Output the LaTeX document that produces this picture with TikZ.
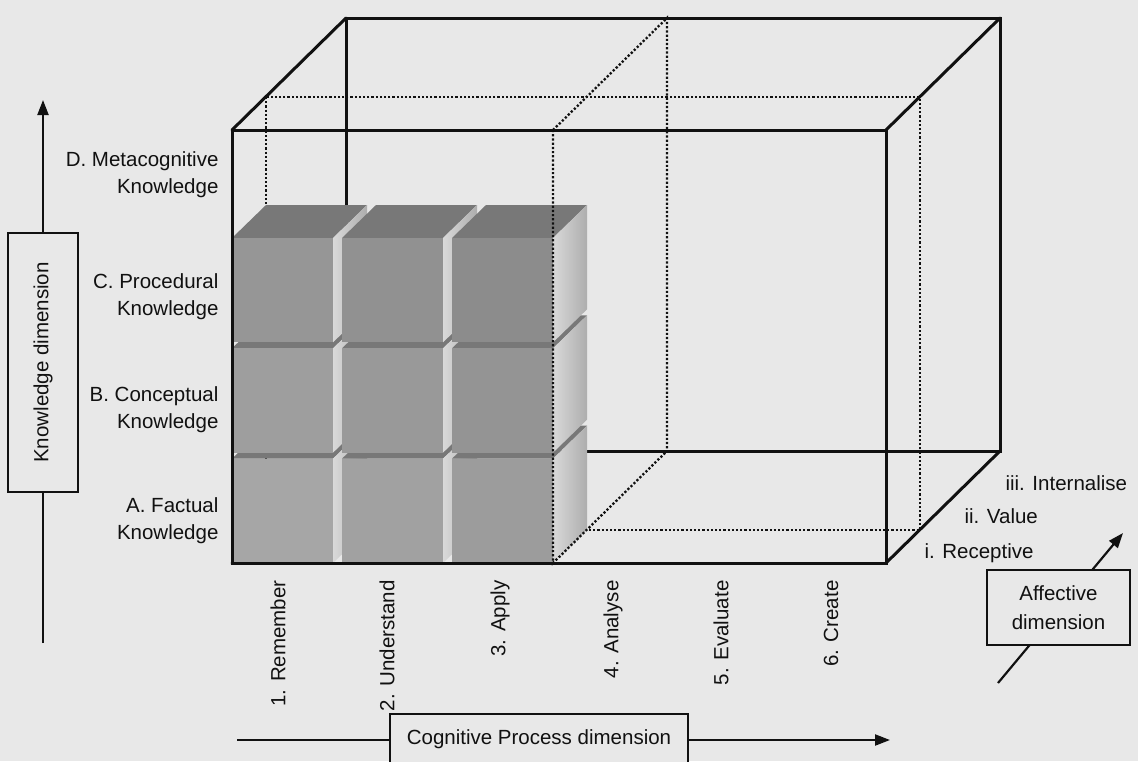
\documentclass[tikz,border=0pt]{standalone}
\usepackage{fontspec}
\setmainfont{Liberation Sans}
\usetikzlibrary{positioning,calc,arrows.meta}
\definecolor{paper}{HTML}{E8E8E8}
\definecolor{ink}{HTML}{111111}
\definecolor{cubetop}{HTML}{787878}

\begin{document}
\begin{tikzpicture}[x=1pt,y=-1pt,
  font=\fontsize{20.5}{27}\selectfont,
  edge/.style={line width=3pt,ink,line cap=round},
  hidden/.style={line width=2.3pt,ink,dash pattern=on 2.2pt off 2pt},
  axis/.style={line width=2.2pt,ink},
  axisarrow/.style={axis,-{Triangle[length=15pt,width=11pt]}},
  dimbox/.style={draw=ink,line width=2.2pt,fill=paper,inner sep=0pt,align=center,text=ink},
  rowlabel/.style={anchor=east,align=right,text=ink},
  collabel/.style={rotate=90,anchor=east,text=ink},
  afflabel/.style={anchor=base west,text=ink}]
\useasboundingbox (0,0) rectangle (1138,761);
\fill[paper] (0,0) rectangle (1138,761);
% corners of the box: front (f), back (b), receptive layer (m), split after 3. Apply (s)
\coordinate (fTL) at (232,130); \coordinate (fTR) at (886,130);
\coordinate (fBR) at (886,563); \coordinate (fBL) at (232,563);
\coordinate (bTL) at (346,18);  \coordinate (bTR) at (1000,18);
\coordinate (bBR) at (1000,451); \coordinate (bBL) at (346,451);
\coordinate (mTL) at (266,97);  \coordinate (mBR) at (920,530);
\coordinate (sTF) at (553,130); \coordinate (sBF) at (553,563);
\coordinate (sTB) at (667,18);  \coordinate (sBB) at (667,451);
% back of the box, partly hidden by the cubes
\draw[edge] (bTL) -- (bTR) -- (bBR) -- (bBL) -- cycle;
\draw[edge] (fTL) -- (bTL) (fTR) -- (bTR) (fBR) -- (bBR) (fBL) -- (bBL);
\draw[hidden] (mTL) rectangle (mBR);
\draw[hidden] (sTF) -- (sTB) -- (sBB);
% the nine cubes, bottom row first
\foreach \j in {0,1,2}{
  \foreach \i in {0,1,2}{
    \pgfmathsetmacro{\xa}{232+110*\i}
    \pgfmathsetmacro{\xb}{\xa+101}
    \pgfmathsetmacro{\yb}{563-110.33*\j}
    \pgfmathsetmacro{\ya}{\yb-104.33}
    \pgfmathtruncatemacro{\tone}{35+3*\j+2*\i}
    \fill[cubetop] (\xa,\ya) -- (\xb,\ya) -- ++(34,-33) -- (\xa+34,\ya-33) -- cycle;
    \shade[left color=black!15,right color=black!32] (\xb,\ya) -- (\xb,\yb) -- ++(34,-33) -- (\xb+34,\ya-33) -- cycle;
    \fill[black!\tone] (\xa,\ya) rectangle (\xb,\yb);
  }
}
% front of the box
\draw[edge] (fTL) rectangle (fBR);
\draw[hidden] (sTF) -- (sBF) -- (sBB);
% NODE 1: knowledge rows
\node[rowlabel] (kD) at (222,175) {D. Metacognitive\\Knowledge};
\node[rowlabel] (kC) at (222,297) {C. Procedural\\Knowledge};
\node[rowlabel] (kB) at (222,410) {B. Conceptual\\Knowledge};
\node[rowlabel] (kA) at (222,521) {A. Factual\\Knowledge};
% NODE 2: cognitive process columns
\node[collabel] (c1) at (278,577) {1. Remember};
\node[collabel] (c2) at (387,577) {2. Understand};
\node[collabel] (c3) at (500,577) {3. Apply};
\node[collabel] (c4) at (613,577) {4. Analyse};
\node[collabel] (c5) at (721,577) {5. Evaluate};
\node[collabel] (c6) at (831,577) {6. Create};
% NODE 3: affective levels
\node[afflabel] (a3) at (1002,490) {iii. Internalise};
\node[afflabel] (a2) at (961,523) {ii. Value};
\node[afflabel] (a1) at (921,558) {i. Receptive};
% NODE 4: the three dimension arrows with their boxes
\coordinate (kfoot) at (43,643); \coordinate (khead) at (43,100);
\draw[axisarrow] (kfoot) -- (khead);
\node[dimbox,rotate=90,minimum width=259pt,minimum height=70pt] (kbox) at (43,362.5) {Knowledge dimension};
\coordinate (cfoot) at (237,740); \coordinate (chead) at (890,740);
\draw[axisarrow] (cfoot) -- (chead);
\node[dimbox,minimum width=298pt,minimum height=50pt] (cbox) at (539,739) {Cognitive Process dimension};
\coordinate (afoot) at (998,683); \coordinate (ahead) at (1123,533);
\draw[axisarrow] (afoot) -- (ahead);
\node[dimbox,minimum width=143pt,minimum height=75pt,font=\fontsize{20.5}{29}\selectfont] (abox) at (1058.5,607.5) {Affective\\dimension};
\end{tikzpicture}
\end{document}
